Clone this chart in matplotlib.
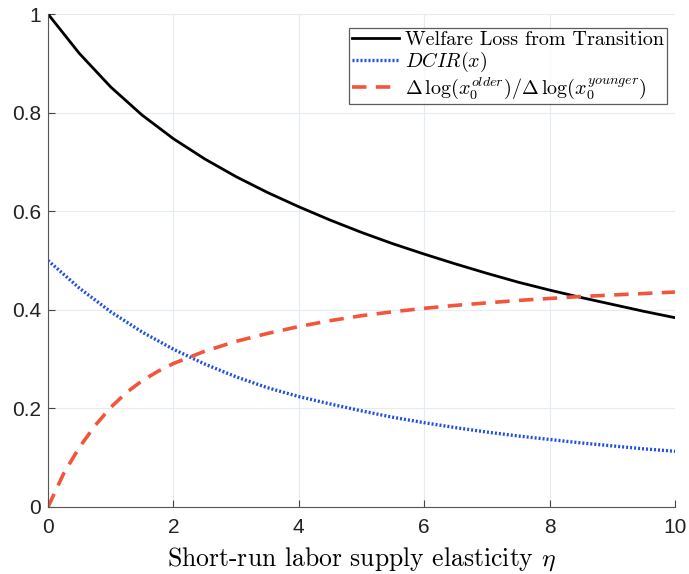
import matplotlib
matplotlib.use('Agg')
import matplotlib.pyplot as plt

plt.rcParams['mathtext.fontset'] = 'cm'

# values
eta = [0, 0.5, 1, 1.5, 2, 2.5, 3, 3.5, 4, 4.5, 5, 5.5, 6, 6.5, 7, 7.5, 8, 8.5, 9, 9.5, 10]
welfare_loss = [1.0, 0.920, 0.852, 0.795, 0.747, 0.706, 0.670, 0.638, 0.609, 0.582, 0.557,
                0.534, 0.513, 0.493, 0.474, 0.456, 0.440, 0.425, 0.411, 0.397, 0.384]
dcir = [0.5, 0.444, 0.396, 0.355, 0.320, 0.290, 0.264, 0.242, 0.224, 0.209, 0.195,
        0.182, 0.171, 0.161, 0.152, 0.144, 0.137, 0.130, 0.124, 0.118, 0.113]

eta_ratio = [0, 0.25, 0.5, 0.75, 1, 1.25, 1.5, 1.75, 2, 2.5, 3, 3.5, 4, 4.5, 5, 5.5, 6,
             6.5, 7, 7.5, 8, 8.5, 9, 9.5, 10]
ratio = [0, 0.068, 0.121, 0.165, 0.202, 0.232, 0.256, 0.275, 0.291, 0.316, 0.336, 0.352,
         0.366, 0.378, 0.388, 0.396, 0.403, 0.409, 0.414, 0.419, 0.423, 0.427, 0.430,
         0.433, 0.436]

fig = plt.figure(figsize=(6.89, 5.74), dpi=100)
ax = fig.add_axes([48 / 689, 67 / 574, 627 / 689, 493 / 574])

ax.plot(eta, welfare_loss, color='black', lw=2.0, label='Welfare Loss from Transition')
ax.plot(eta, dcir, color='#2050e0', lw=2.4, ls=(0, (0.6, 0.6)), label=r'$DCIR(x)$')
ax.plot(eta_ratio, ratio, color='#f2553c', lw=2.6, ls=(0, (4, 2.6)),
        label=r'$\Delta\,\log(x_0^{older})/\Delta\,\log(x_0^{younger})$')

ax.set_xlim(0, 10)
ax.set_ylim(0, 1)
ax.set_xticks([0, 2, 4, 6, 8, 10])
ax.set_yticks([0, 0.2, 0.4, 0.6, 0.8, 1])
ax.set_yticklabels(['0', '0.2', '0.4', '0.6', '0.8', '1'])
ax.grid(True, color='#e3ebf3', lw=0.8)
ax.set_axisbelow(True)
ax.tick_params(direction='in', length=5, color='#444444', labelsize=15,
               labelcolor='#222222')
ax.tick_params(axis='x', pad=8)
ax.tick_params(axis='y', pad=5)
for lab in ax.get_xticklabels() + ax.get_yticklabels():
    lab.set_family('Liberation Sans')
ax.spines['top'].set_visible(False)
ax.spines['right'].set_visible(False)
ax.spines['left'].set_color('#555555')
ax.spines['bottom'].set_color('#555555')

ax.set_xlabel(r'Short-run labor supply elasticity $\eta$', family='cmr10',
              fontsize=18.5, labelpad=6)

leg = ax.legend(loc='upper right', bbox_to_anchor=(0.987, 0.972),
                prop={'family': 'cmr10', 'size': 14.5}, frameon=True, fancybox=False,
                handlelength=2.3, handletextpad=0.3, borderpad=0.15,
                labelspacing=0.05, borderaxespad=0)
leg.get_frame().set_edgecolor('#333333')
leg.get_frame().set_linewidth(0.9)

fig.savefig('out.png', dpi=100)
